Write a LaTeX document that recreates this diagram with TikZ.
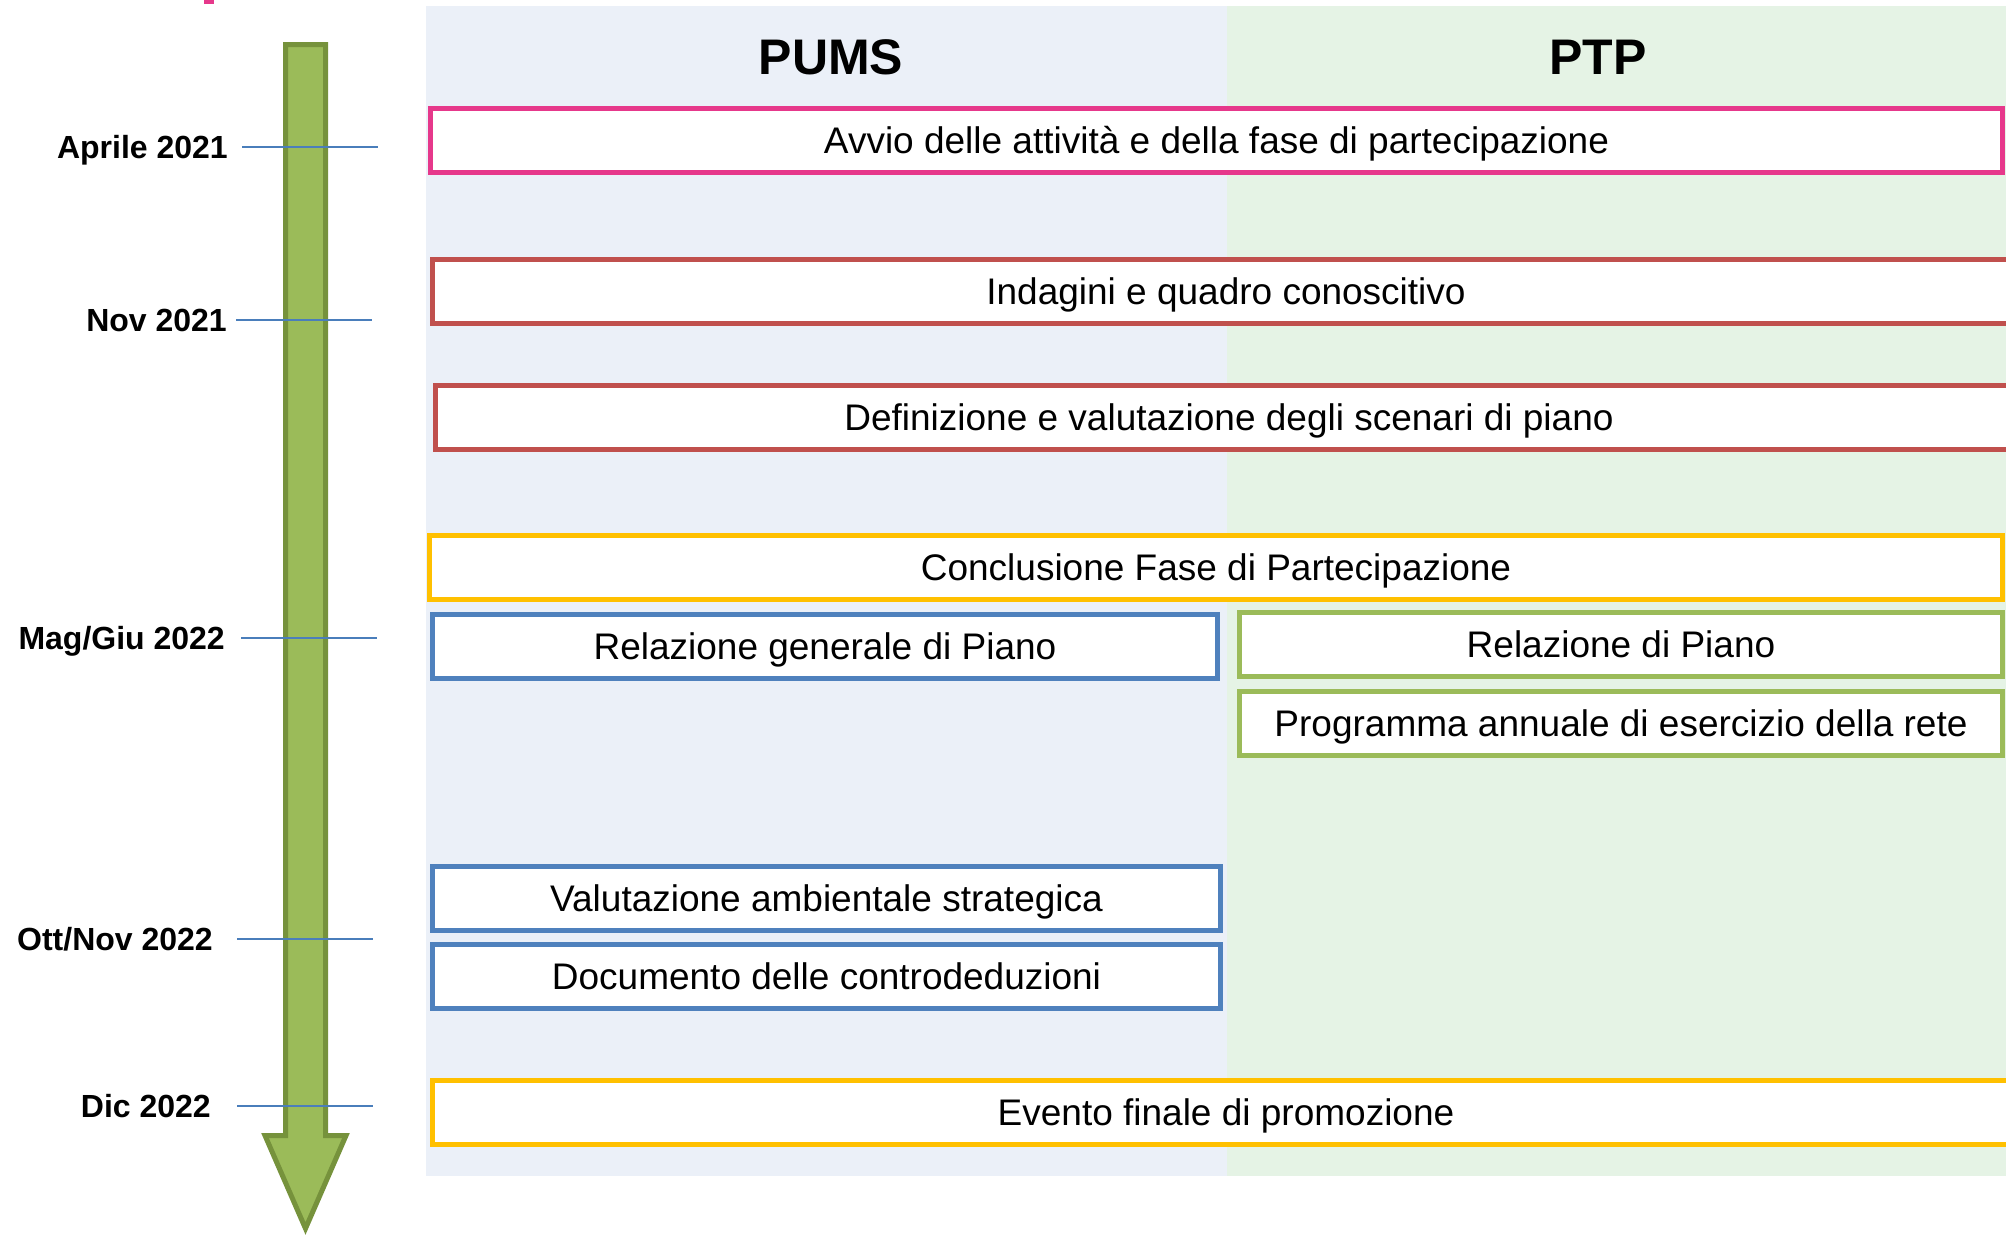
\documentclass[tikz,border=0pt]{standalone}
\usepackage{fontspec}
\setmainfont{Liberation Sans}
\definecolor{pumsbg}{HTML}{EBF0F8}
\definecolor{ptpbg}{HTML}{E5F3E5}
\definecolor{startpink}{HTML}{E6388B}
\definecolor{phasered}{HTML}{C0504D}
\definecolor{phaseyellow}{HTML}{FFC000}
\definecolor{phaseblue}{HTML}{4F81BD}
\definecolor{phasegreen}{HTML}{9BBB59}
\definecolor{arrowline}{HTML}{76923C}
\definecolor{tickblue}{HTML}{4A7EBB}
\tikzset{
  phase/.style={draw, line width=5pt, fill=white, inner sep=0pt, outer sep=0pt,
    minimum height=64pt, text height=26.5pt, text depth=0pt,
    font=\fontsize{37}{40}\selectfont},
  head/.style={anchor=base, font=\fontsize{50}{54}\selectfont\bfseries},
  date/.style={anchor=base east, inner sep=0pt, font=\fontsize{32}{36}\selectfont\bfseries},
  tick/.style={draw=tickblue, line width=2pt}
}

\begin{document}
\begin{tikzpicture}
[x=1pt, y=-1pt]
\useasboundingbox (0,0) rectangle (2006,1237);
\fill[pumsbg] (426,6) rectangle (1227,1176); %% PUMS column
\fill[ptpbg]  (1227,6) rectangle (2006,1176); %% PTP column
\fill[startpink] (204,0) rectangle (214,4);
\node[head] (pums) at (831,74) {PUMS};
\node[head] (ptp)  at (1598,74) {PTP};
%% time arrow
\draw[line width=5pt, draw=arrowline, fill=phasegreen, line join=miter]
  (285.5,44.5) -- (325.5,44.5) -- (325.5,1135.5) -- (346,1135.5)
  -- (305.5,1228.5) -- (265,1135.5) -- (285.5,1135.5) -- cycle;
%% dates
\node[date] (lapr) at (228,158.5)  {Aprile 2021};
\node[date] (lnov) at (227,331.5)  {Nov 2021};
\node[date] (lmag) at (225,649.5)  {Mag/Giu 2022};
\node[date] (lott) at (213,950.5)  {Ott/Nov 2022};
\node[date] (ldic) at (211,1117.5) {Dic 2022};
\coordinate (tapr) at (242,147);
\coordinate (tnov) at (236,320);
\coordinate (tmag) at (241,638);
\coordinate (tott) at (237,939);
\coordinate (tdic) at (237,1106);
\draw[tick] (tapr) -- ++(136,0);
\draw[tick] (tnov) -- ++(136,0);
\draw[tick] (tmag) -- ++(136,0);
\draw[tick] (tott) -- ++(136,0);
\draw[tick] (tdic) -- ++(136,0);
%% phases
\node[phase, draw=startpink, minimum width=1572pt] (avvio) at (1216.5,140.5)
  {Avvio delle attività e della fase di partecipazione};
\node[phase, draw=phasered, minimum width=1587pt] (indagini) at (1226,291.5)
  {Indagini e quadro conoscitivo};
\node[phase, draw=phasered, minimum width=1587pt] (scenari) at (1229,417.5)
  {Definizione e valutazione degli scenari di piano};
\node[phase, draw=phaseyellow, minimum width=1573pt] (conclusione) at (1216,567.5)
  {Conclusione Fase di Partecipazione};
\node[phase, draw=phaseblue, minimum width=785pt] (relgen) at (825,646.5)
  {Relazione generale di Piano};
\node[phase, draw=phasegreen, minimum width=763pt] (relptp) at (1621,644.5)
  {Relazione di Piano};
\node[phase, draw=phasegreen, minimum width=763pt] (programma) at (1621,723.5)
  {Programma annuale di esercizio della rete};
\node[phase, draw=phaseblue, minimum width=788pt] (vas) at (826.5,898)
  {Valutazione ambientale strategica};
\node[phase, draw=phaseblue, minimum width=788pt] (controded) at (826.5,976)
  {Documento delle controdeduzioni};
\node[phase, draw=phaseyellow, minimum width=1587pt] (evento) at (1226,1112.5)
  {Evento finale di promozione};
\end{tikzpicture}
\end{document}
